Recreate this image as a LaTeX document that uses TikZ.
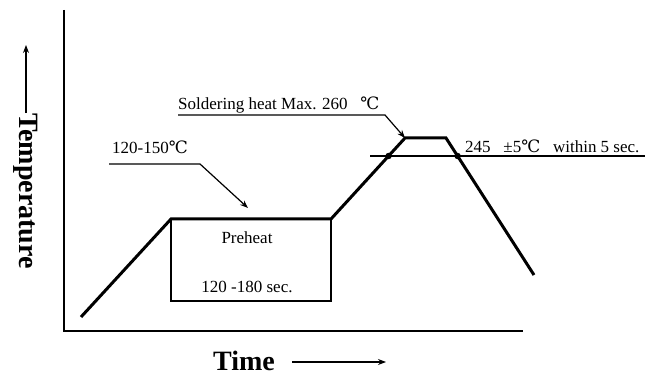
\documentclass[tikz,border=0pt]{standalone}
\usepackage{fontspec}
\setmainfont{Liberation Serif}
\newfontfamily\symfont{DejaVu Serif}
\usetikzlibrary{arrows.meta,intersections}
\newcommand{\degC}{{\symfont ℃}}
\begin{document}
\begin{tikzpicture}[x=1pt,y=-1pt,
  axis/.style={line width=2.2pt},
  profile/.style={line width=3pt, line join=miter},
  boxline/.style={line width=2.4pt},
  thinline/.style={line width=1.2pt},
  lbl/.style={font=\fontsize{17}{20}\selectfont, inner sep=0pt},
  big/.style={font=\fontsize{28}{30}\selectfont\bfseries, inner sep=0pt},
  tip/.style={-{Stealth[length=8pt,width=6pt]}}
]
\useasboundingbox (0,0) rectangle (645,379);
% axes
\coordinate (o) at (64,331);
\coordinate (ytop) at (64,10);
\coordinate (xend) at (523,331);
\draw[axis] (ytop) -- (o) -- (xend);
% profile
\coordinate (s) at (81,317);
\coordinate (p1) at (171,219);
\coordinate (p2) at (331,219);
\coordinate (h1) at (405,138);
\coordinate (h2) at (446,138);
\coordinate (e) at (534,275);
\draw[profile, name path=prof] (s) -- (p1) -- (p2) -- (h1) -- (h2) -- (e);
% preheat box
\coordinate (b) at (331,301);
\draw[boxline] (p1) rectangle (b);
\node[lbl] (pre) at (247,238) {Preheat};
\node[lbl] (sec) at (247,287) {120 -180 sec.};
% 245 line
\coordinate (l1) at (370,156);
\coordinate (l2) at (645,156);
\draw[thinline, name path=lim] (l1) -- (l2);
\path[name intersections={of=prof and lim, name=ix}];
\fill (ix-1) circle (3.2);
\fill (ix-2) circle (3.2);
\node[lbl, anchor=west] (lim245) at (465,146) {245\ \ \ ±5\degC\ \ \ within 5 sec.};
% soldering heat
\node[lbl, anchor=west] (sold) at (178,105) {Soldering heat Max. 260\ \ \ \degC};
\coordinate (su1) at (178,115);
\coordinate (su2) at (385,115);
\draw[thinline, tip] (su1) -- (su2) -- (h1);
% 120-150
\node[lbl, anchor=west] (pt) at (112,147) {120-150\degC};
\coordinate (pu1) at (109,164);
\coordinate (pu2) at (200,164);
\coordinate (pu3) at (248,208);
\draw[thinline, tip] (pu1) -- (pu2) -- (pu3);
% axis labels
\node[big, rotate=-90] (temp) at (26,191) {Temperature};
\coordinate (tarr) at (26,45);
\draw[thinline, tip] (temp.west) -- (tarr);
\node[big] (time) at (244,361) {Time};
\coordinate (ta1) at (292,362);
\coordinate (ta2) at (386,362);
\draw[thinline, tip] (ta1) -- (ta2);
\end{tikzpicture}
\end{document}
